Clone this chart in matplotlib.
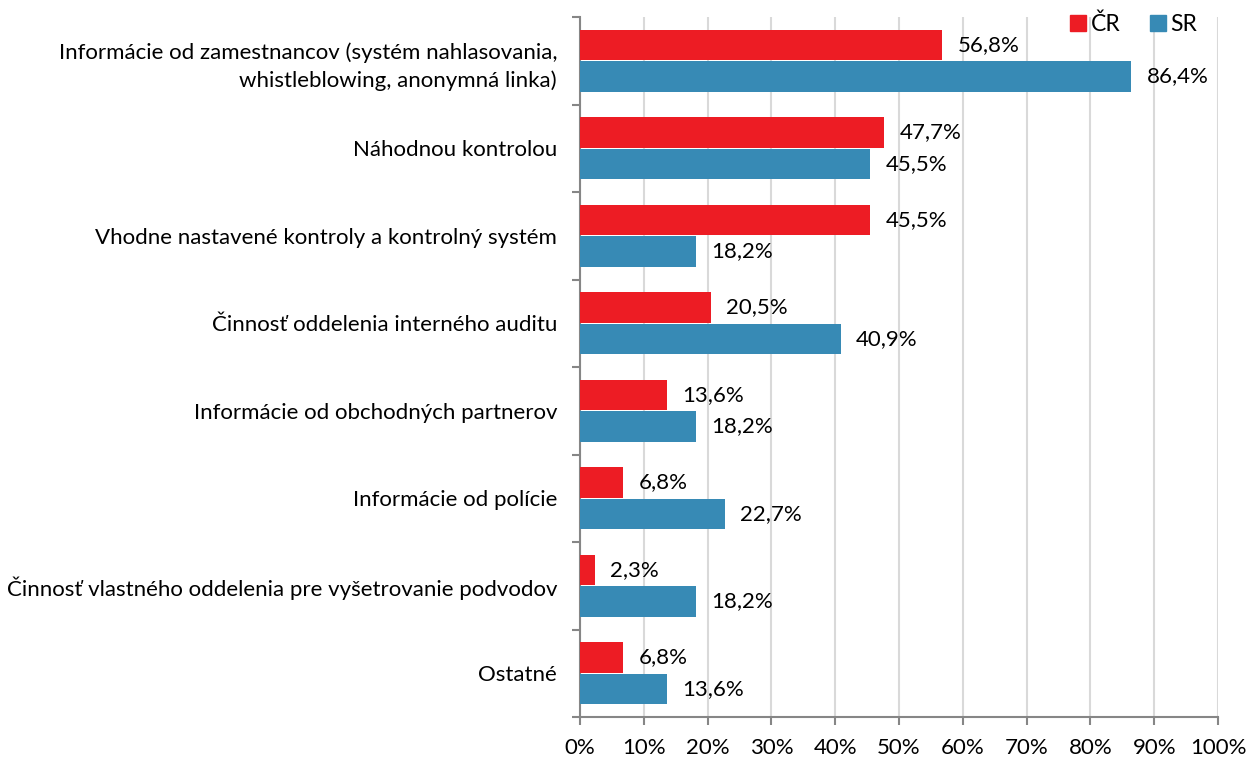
import matplotlib
matplotlib.use("Agg")
import matplotlib.pyplot as plt
from matplotlib.ticker import FixedLocator, NullFormatter
from matplotlib.patches import Patch
import numpy as np

categories = [
    "Informácie od zamestnancov (systém nahlasovania,\nwhistleblowing, anonymná linka)",
    "Náhodnou kontrolou",
    "Vhodne nastavené kontroly a kontrolný systém",
    "Činnosť oddelenia interného auditu",
    "Informácie od obchodných partnerov",
    "Informácie od polície",
    "Činnosť vlastného oddelenia pre vyšetrovanie podvodov",
    "Ostatné",
]
cr_values = [56.8, 47.7, 45.5, 20.5, 13.6, 6.8, 2.3, 6.8]
sr_values = [86.4, 45.5, 18.2, 40.9, 18.2, 22.7, 18.2, 13.6]
series_names = ["ČR", "SR"]
x_ticks = list(range(0, 101, 10))

RED = "#ED1C24"
BLUE = "#378AB5"

plt.rcParams['font.family'] = ['Lato', 'DejaVu Sans']
fig = plt.figure(figsize=(12.47, 7.58), dpi=100)
ax = fig.add_axes([580/1247, 1-717/758, 638/1247, 700/758])

n = len(categories)
centers = np.arange(n) + 0.5
h = 0.345
gap = 0.017
y_cr = centers - (h/2 + gap/2)
y_sr = centers + (h/2 + gap/2)
ax.barh(y_cr, cr_values, height=h, color=RED, zorder=3)
ax.barh(y_sr, sr_values, height=h, color=BLUE, zorder=3)

fs = 16
for y, v in zip(y_cr, cr_values):
    ax.text(v + 2.4, y, f"{v:.1f}%".replace(".", ","), va="center", ha="left", fontsize=fs, color="black")
for y, v in zip(y_sr, sr_values):
    ax.text(v + 2.4, y, f"{v:.1f}%".replace(".", ","), va="center", ha="left", fontsize=fs, color="black")

ax.set_ylim(n, 0)
ax.set_xlim(0, 100)
ax.xaxis.set_major_locator(FixedLocator(x_ticks))
ax.set_xticklabels([f"{t}%" for t in x_ticks], fontsize=fs)
ax.yaxis.set_major_locator(FixedLocator(np.arange(n + 1)))
ax.yaxis.set_major_formatter(NullFormatter())
ax.yaxis.set_minor_locator(FixedLocator(centers))
ax.set_yticklabels(categories, minor=True, fontsize=fs, ha="right", linespacing=1.45)
ax.tick_params(axis="y", which="minor", length=0, pad=16.5)
ax.tick_params(axis="y", which="major", length=6, width=1.5, color="#868686", direction="out")
ax.tick_params(axis="x", which="major", length=6, width=1.5, color="#868686", direction="out", pad=9)

ax.grid(axis="x", color="#D9D9D9", linewidth=1.5, zorder=0)
for s in ["top", "right"]:
    ax.spines[s].set_visible(False)
for s in ["left", "bottom"]:
    ax.spines[s].set_color("#868686")
    ax.spines[s].set_linewidth(1.5)

handles = [Patch(color=RED, label=series_names[0]), Patch(color=BLUE, label=series_names[1])]
leg = ax.legend(handles=handles, loc="upper right", bbox_to_anchor=(0.993, 1.028), ncol=2, frameon=False,
                fontsize=fs + 0.5, handlelength=0.7, handleheight=0.7, handletextpad=0.2, columnspacing=1.3,
                borderaxespad=0.3)

fig.savefig("out.png", dpi=100)
